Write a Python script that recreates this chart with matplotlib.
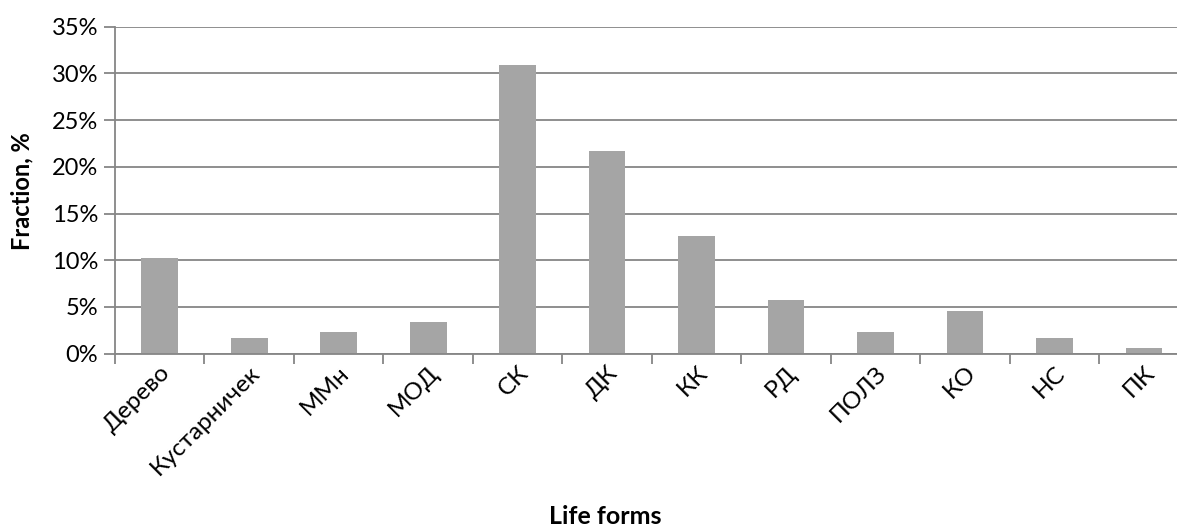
import matplotlib
matplotlib.use("Agg")
import matplotlib.pyplot as plt
from matplotlib.ticker import FuncFormatter, FixedLocator, NullFormatter

# Life-form spectrum of the flora
categories = ["Дерево", "Кустарничек", "ММн", "МОД", "СК", "ДК", "КК",
              "РД", "ПОЛЗ", "КО", "НС", "ПК"]
fractions = [10.2, 1.7, 2.3, 3.4, 30.9, 21.7, 12.6, 5.75, 2.3, 4.6, 1.7, 0.6]
y_ticks = [0, 5, 10, 15, 20, 25, 30, 35]

plt.rcParams["font.family"] = ["Lato", "DejaVu Sans"]

W, H = 1177, 530
fig = plt.figure(figsize=(W / 100, H / 100), dpi=100)
left, right, top, bottom = 115, 1188.7, 26.7, 353.7
ax = fig.add_axes([left / W, 1 - bottom / H, (right - left) / W, (bottom - top) / H])

bar_color = "#A5A5A5"
grid_color = "#868686"
x = list(range(len(categories)))
ax.bar(x, fractions, width=0.41, color=bar_color, zorder=2)

ax.set_xlim(-0.5, len(categories) - 0.5)
ax.set_ylim(0, 35)
ax.yaxis.set_major_locator(FixedLocator(y_ticks))
ax.yaxis.set_major_formatter(FuncFormatter(lambda v, p: f"{v:.0f}%"))
ax.grid(axis="y", color=grid_color, linewidth=1.3, zorder=1)
ax.set_axisbelow(True)

for s in ["top", "right"]:
    ax.spines[s].set_visible(False)
for s in ["left", "bottom"]:
    ax.spines[s].set_color(grid_color)
    ax.spines[s].set_linewidth(1.3)

ax.tick_params(axis="y", length=8, width=1.3, color=grid_color,
               labelsize=17, labelcolor="#000000", pad=4)

# category boundaries carry the tick marks, labels sit under bar centres
ax.xaxis.set_major_locator(FixedLocator([i - 0.5 for i in range(len(categories) + 1)]))
ax.xaxis.set_major_formatter(NullFormatter())
ax.tick_params(axis="x", which="major", length=7, width=1.3, color=grid_color)
ax.xaxis.set_minor_locator(FixedLocator(x))
ax.set_xticks(x, categories, minor=True)
ax.tick_params(axis="x", which="minor", length=0, labelsize=17.5, pad=6)
for lab in ax.get_xticklabels(minor=True):
    lab.set_rotation(45)
    lab.set_ha("right")
    lab.set_va("top")
    lab.set_rotation_mode("anchor")

fig.text(22 / W, 1 - 191 / H, "Fraction, %", rotation=90, ha="center", va="center",
         fontsize=17, fontweight="bold")
fig.text(605 / W, 1 - 517 / H, "Life forms", ha="center", va="center",
         fontsize=18, fontweight="bold")

fig.savefig("out.png", dpi=100)
